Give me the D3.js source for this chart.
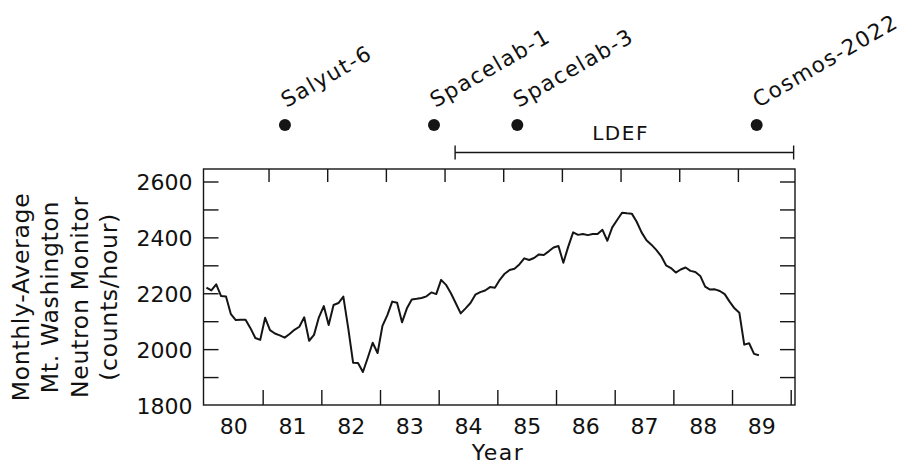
<!DOCTYPE html>
<html><head><meta charset="utf-8">
<script src="https://cdn.jsdelivr.net/npm/d3@7"></script>
<style>
body{margin:0;background:#fff}
svg{display:block}
text{font-family:"DejaVu Sans",sans-serif;fill:#111}
</style>
</head><body>
<svg id="chart" width="910" height="464"></svg>
<script>
// ---- data ----
const firstYear = 1980;
const xTickLabels = ["80","81","82","83","84","85","86","87","88","89"];
const yLabelValues = [1800, 2000, 2200, 2400, 2600];
const yTickValues = [1900, 2000, 2100, 2200, 2300, 2400, 2500, 2600];
const yAxisTitle = ["Monthly-Average", "Mt. Washington", "Neutron Monitor", "(counts/hour)"];
// monthly average count rate, Jan 1980 - Jun 1989
const monthlyCounts = [
  2220, 2210, 2232, 2190, 2188, 2125, 2104, 2105, 2105, 2075, 2040, 2033,
  2112, 2068, 2056, 2049, 2041, 2054, 2069, 2080, 2114, 2030, 2051, 2114,
  2154, 2086, 2158, 2165, 2188, 2075, 1951, 1950, 1918, 1969, 2023, 1986,
  2083, 2122, 2170, 2166, 2096, 2146, 2178, 2180, 2183, 2189, 2203, 2197,
  2248, 2230, 2200, 2164, 2128, 2146, 2165, 2195, 2204, 2210, 2222, 2220,
  2248, 2270, 2283, 2288, 2303, 2325, 2319, 2326, 2339, 2337, 2350, 2364,
  2369, 2309, 2367, 2418, 2409, 2412, 2408, 2412, 2412, 2427, 2388, 2436,
  2462, 2488, 2486, 2485, 2456, 2418, 2390, 2374, 2355, 2333, 2300, 2290,
  2274, 2285, 2292, 2280, 2276, 2262, 2224, 2213, 2214, 2208, 2197, 2170,
  2146, 2130, 2016, 2021, 1983, 1978
];
const missionNames = ["Salyut-6", "Spacelab-1", "Spacelab-3", "Cosmos-2022"];
const missionDates = [1981.38, 1983.92, 1985.34, 1989.42];
const ldefName = "LDEF";
const ldefSpan = [1984.28, 1990.05];

// ---- layout ----
const svg = d3.select("#chart");
const x = d3.scaleLinear().domain([1980, 1990]).range([204, 790.7]);
const y = d3.scaleLinear().domain([1800, 2600]).range([405, 181.5]);
const frame = {left: 203.5, right: 795, top: 169, bottom: 405};
const ink = "#151515";

const series = monthlyCounts.map((v, i) => ({t: firstYear + (i + 0.5) / 12, v}));

// frame
svg.append("rect")
  .attr("x", frame.left).attr("y", frame.top)
  .attr("width", frame.right - frame.left).attr("height", frame.bottom - frame.top)
  .attr("fill", "none").attr("stroke", ink).attr("stroke-width", 1.4);

// bottom ticks (year boundaries)
const bottomAxis = d3.axisBottom(x).tickValues(d3.range(1981, 1991))
  .tickSizeInner(-15).tickSizeOuter(0).tickFormat("");
svg.append("g").attr("transform", `translate(0,${frame.bottom})`).call(bottomAxis)
  .call(g => g.select(".domain").remove())
  .call(g => g.selectAll("line").attr("stroke", ink).attr("stroke-width", 1.4));

// top ticks
const topAxis = d3.axisTop(x).tickValues(d3.range(1981.1, 1990, 1))
  .tickSizeInner(-13).tickSizeOuter(0).tickFormat("");
svg.append("g").attr("transform", `translate(0,${frame.top})`).call(topAxis)
  .call(g => g.select(".domain").remove())
  .call(g => g.selectAll("line").attr("stroke", ink).attr("stroke-width", 1.4));

// year labels centered in each year
const labelAxis = d3.axisBottom(x).tickValues(d3.range(1980.5, 1990, 1))
  .tickSize(0).tickFormat((d, i) => xTickLabels[i]);
svg.append("g").attr("transform", `translate(0,${frame.bottom})`).call(labelAxis)
  .call(g => g.select(".domain").remove())
  .call(g => g.selectAll("text").attr("y", 29).attr("dy", 0)
    .attr("font-size", 22).attr("font-family", '"DejaVu Sans",sans-serif').attr("fill", ink));

// left & right y ticks
const leftAxis = d3.axisLeft(y).tickValues(yTickValues).tickSizeInner(-15).tickSizeOuter(0).tickFormat("");
svg.append("g").attr("transform", `translate(${frame.left},0)`).call(leftAxis)
  .call(g => g.select(".domain").remove())
  .call(g => g.selectAll("line").attr("stroke", ink).attr("stroke-width", 1.4));
const rightAxis = d3.axisRight(y).tickValues(yTickValues).tickSizeInner(-15).tickSizeOuter(0).tickFormat("");
svg.append("g").attr("transform", `translate(${frame.right},0)`).call(rightAxis)
  .call(g => g.select(".domain").remove())
  .call(g => g.selectAll("line").attr("stroke", ink).attr("stroke-width", 1.4));

// y labels
const yLabelAxis = d3.axisLeft(y).tickValues(yLabelValues).tickSize(0).tickPadding(11).tickFormat(d3.format("d"));
svg.append("g").attr("transform", `translate(${frame.left},0)`).call(yLabelAxis)
  .call(g => g.select(".domain").remove())
  .call(g => g.selectAll("text").attr("dy", "0.38em")
    .attr("font-size", 22).attr("font-family", '"DejaVu Sans",sans-serif').attr("fill", ink));

// y title
const titleG = svg.append("g").attr("transform", "translate(0,297) rotate(-90)");
titleG.selectAll("text").data(yAxisTitle).join("text")
  .attr("x", 0).attr("y", (d, i) => 29 + i * 29.3)
  .attr("text-anchor", "middle").attr("font-size", 23.5).attr("letter-spacing", 0.7).attr("fill", ink)
  .text(d => d);

// x title
svg.append("text").attr("x", 498).attr("y", 460).attr("text-anchor", "middle")
  .attr("font-size", 22).attr("letter-spacing", 1.5).attr("fill", ink).text("Year");

// data line
svg.append("path").datum(series)
  .attr("fill", "none").attr("stroke", ink).attr("stroke-width", 2)
  .attr("stroke-linejoin", "round")
  .attr("d", d3.line().x(d => x(d.t)).y(d => y(d.v)));

// missions
const dotY = 125;
svg.selectAll("circle.mission").data(missionDates).join("circle")
  .attr("class", "mission").attr("cx", d => x(d)).attr("cy", dotY).attr("r", 6).attr("fill", ink);
svg.selectAll("text.mission").data(missionNames).join("text")
  .attr("class", "mission")
  .attr("transform", (d, i) => `translate(${x(missionDates[i]) + 1.5},${dotY - 17}) rotate(-30)`)
  .attr("font-size", 21.5).attr("letter-spacing", 1.5).attr("fill", ink)
  .text(d => d);

// LDEF bracket
const ldefY = 152.5;
svg.append("line").attr("x1", x(ldefSpan[0])).attr("x2", x(ldefSpan[1]))
  .attr("y1", ldefY).attr("y2", ldefY).attr("stroke", ink).attr("stroke-width", 1.4);
svg.selectAll("line.cap").data(ldefSpan).join("line").attr("class", "cap")
  .attr("x1", d => x(d)).attr("x2", d => x(d))
  .attr("y1", ldefY - 7).attr("y2", ldefY + 7).attr("stroke", ink).attr("stroke-width", 1.4);
svg.append("text").attr("x", x(1987.1)).attr("y", 140).attr("text-anchor", "middle")
  .attr("font-size", 20).attr("letter-spacing", 1.5).attr("fill", ink).text(ldefName);
</script>
</body></html>
